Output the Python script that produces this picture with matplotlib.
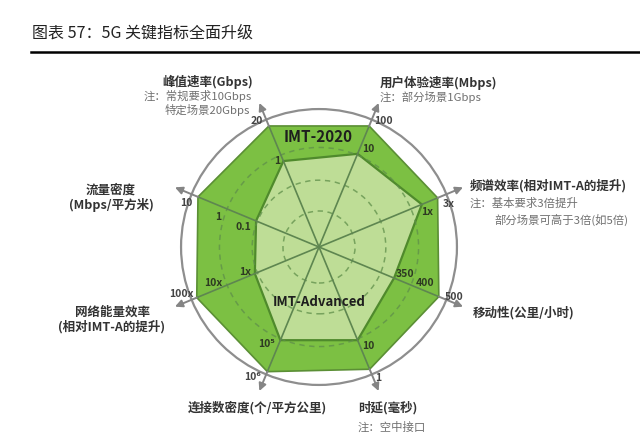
import numpy as np
import matplotlib
matplotlib.use("Agg")
import matplotlib.pyplot as plt
from matplotlib.lines import Line2D

plt.rcParams['font.family'] = ['Noto Sans CJK SC', 'DejaVu Sans']

# ---------------- data ----------------
title = "图表 57：5G 关键指标全面升级"
categories = ["峰值速率(Gbps)", "用户体验速率(Mbps)", "频谱效率(相对IMT-A的提升)",
              "移动性(公里/小时)", "时延(毫秒)", "连接数密度(个/平方公里)",
              "网络能量效率\n(相对IMT-A的提升)", "流量密度\n(Mbps/平方米)"]
notes = [["注：常规要求10Gbps", "特定场景20Gbps"], ["注：部分场景1Gbps"],
         ["注：基本要求3倍提升", "部分场景可高于3倍(如5倍)"], [], ["注：空中接口"], [], [], []]
axis_angles_deg = [112.5, 67.5, 22.5, -22.5, -67.5, -112.5, -157.5, 157.5]
# normalised radial position of each standard on each axis
imt2020 = [1.0, 1.0, 0.98, 0.99, 1.01, 1.03, 1.01, 1.0]
imt_adv = [0.71, 0.77, 0.85, 0.62, 0.77, 0.77, 0.53, 0.52]
outer_labels = ["20", "100", "3x", "500", "1", "10⁶", "100x", "10"]
inner_labels = ["1", "10", "1x", "350", "10", "10⁵", "1x", "0.1"]
mid_labels = ["", "", "", "400", "", "", "10x", "1"]
grid_radii = [0.275, 0.51, 0.76]
series_names = ["IMT-2020", "IMT-Advanced"]

# ---------------- layout ----------------
W, H = 640, 445
CX, CY, S = 319, 247, 131.0  # centre (px) and px per unit

fig = plt.figure(figsize=(W / 100, H / 100), dpi=100)
ax = fig.add_axes([0, 0, 1, 1])
ax.set_xlim((0 - CX) / S, (W - CX) / S)
ax.set_ylim((CY - H) / S, CY / S)
ax.axis('off')


def P(px, py):
    return ((px - CX) / S, (CY - py) / S)


th = np.deg2rad(axis_angles_deg)
c, s = np.cos(th), np.sin(th)

dark_fill = '#7cc043'
light_fill = '#bedd96'
edge = '#5b8f35'
grey = '#858585'

# outer circle
circ = plt.Circle((0, 0), 1.053, fill=False, ec='#8e8e8e', lw=1.6, zorder=1)
ax.add_patch(circ)

# IMT-2020 polygon
r1 = np.array(imt2020)
ax.fill(r1 * c, r1 * s, color=dark_fill, ec=edge, lw=1.2, zorder=2)
# IMT-Advanced polygon
r2 = np.array(imt_adv)
ax.fill(r2 * c, r2 * s, color=light_fill, ec='#4f8a2c', lw=1.6, zorder=3)

# dashed grid circles
for gr in grid_radii:
    ax.add_patch(plt.Circle((0, 0), gr, fill=False, ec='#5f8f4a', lw=1.1,
                            ls=(0, (3.5, 3)), alpha=0.75, zorder=4))

# radial axes
for i in range(len(th)):
    ax.plot([0, r1[i] * c[i]], [0, r1[i] * s[i]], color='#5e8650', lw=1.2, zorder=5)
    ax.annotate('', xy=(1.19 * c[i], 1.19 * s[i]), xytext=(r1[i] * c[i], r1[i] * s[i]),
                arrowprops=dict(arrowstyle='-|>', color=grey, lw=1.4,
                                mutation_scale=11, shrinkA=0, shrinkB=0),
                zorder=5, annotation_clip=False)

# series labels
ax.text(*P(318, 137), series_names[0], ha='center', va='center', fontsize=11,
        fontweight='bold', color='#1e1e1e', zorder=6)
ax.text(*P(319, 302), series_names[1], ha='center', va='center', fontsize=9.5,
        fontweight='bold', color='#1e1e1e', zorder=6)

# axis titles and notes
lab_kw = dict(fontsize=9, fontweight='bold', color='#333333', zorder=6)
note_kw = dict(fontsize=8.2, color='#707070', zorder=6)

ax.text(*P(253, 82), categories[0], ha='right', va='center', **lab_kw)
ax.text(*P(252, 96), notes[0][0], ha='right', va='center', **note_kw)
ax.text(*P(250, 110), notes[0][1], ha='right', va='center', **note_kw)
ax.text(*P(380, 83), categories[1], ha='left', va='center', **lab_kw)
ax.text(*P(380, 97), notes[1][0], ha='left', va='center', **note_kw)
ax.text(*P(470, 186), categories[2], ha='left', va='center', **lab_kw)
ax.text(*P(470, 203), notes[2][0], ha='left', va='center', **note_kw)
ax.text(*P(494, 220), notes[2][1], ha='left', va='center', **note_kw)
ax.text(*P(473, 313), categories[3], ha='left', va='center', **lab_kw)
ax.text(*P(358, 408), categories[4], ha='left', va='center', **lab_kw)
ax.text(*P(358, 427), notes[4][0], ha='left', va='center', **note_kw)
ax.text(*P(188, 408), categories[5], ha='left', va='center', **lab_kw)
ax.text(*P(112, 320), categories[6], ha='center', va='center', linespacing=1.15, **lab_kw)
ax.text(*P(111, 198), categories[7], ha='center', va='center', linespacing=1.15, **lab_kw)

# tick labels
outer_pos = [(257, 121), (383, 121), (449, 204), (454, 297), (378, 378), (253, 377), (181, 294), (186, 203)]
inner_pos = [(277, 161), (368, 149), (427, 212), (405, 274), (368, 346), (267, 344), (245, 272), (243, 227)]
mid_pos = [None, None, None, (425, 283), None, None, (213, 283), (218, 217)]
tk = dict(fontsize=7.5, fontweight='bold', ha='center', va='center', zorder=6,
          family=['Noto Sans CJK SC', 'DejaVu Sans'])
for i in range(len(th)):
    ax.text(*P(*outer_pos[i]), outer_labels[i], color='#444444', **tk)
    ax.text(*P(*inner_pos[i]), inner_labels[i], color='#2e3a22', **tk)
    if mid_labels[i]:
        ax.text(*P(*mid_pos[i]), mid_labels[i], color='#2e3a22', **tk)

# title and rule
fig.text(32 / W, 1 - 33 / H, title, ha='left', va='center', fontsize=11.5, color='#222222')
fig.add_artist(Line2D([31 / W, 1.0], [1 - 52 / H, 1 - 52 / H], color='black', lw=1.8))

fig.savefig('out.png', dpi=100)
